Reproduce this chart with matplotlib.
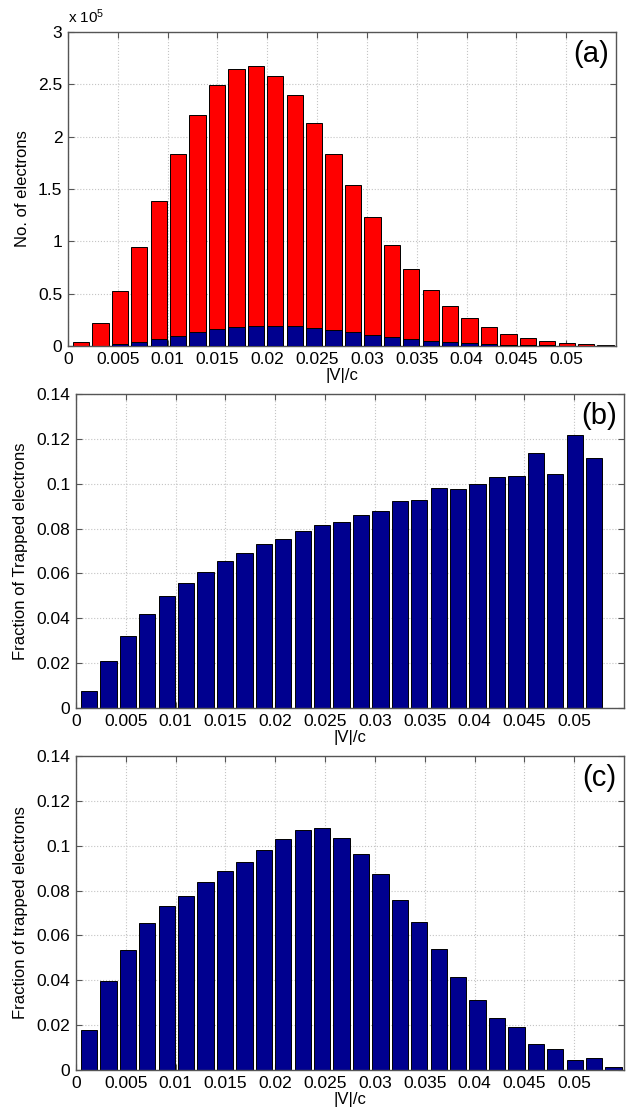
import matplotlib
matplotlib.use("Agg")
import matplotlib.pyplot as plt

plt.rcParams['font.family'] = ['Liberation Sans', 'DejaVu Sans']
plt.rcParams['mathtext.default'] = 'regular'

# bin centres of |V|/c
v_centres = [0.00130, 0.00325, 0.00520, 0.00715, 0.00910, 0.01105, 0.01300,
             0.01495, 0.01690, 0.01885, 0.02080, 0.02275, 0.02470, 0.02665,
             0.02860, 0.03055, 0.03250, 0.03445, 0.03640, 0.03835, 0.04030,
             0.04225, 0.04420, 0.04615, 0.04810, 0.05005, 0.05200, 0.05395]
bin_w = 0.00195

# (a) number of electrons, units of 1e5
all_electrons = [0.038, 0.215, 0.53, 0.945, 1.39, 1.831, 2.208, 2.495, 2.649,
                 2.677, 2.575, 2.396, 2.134, 1.837, 1.537, 1.237, 0.965, 0.731,
                 0.535, 0.385, 0.269, 0.18, 0.115, 0.077, 0.048, 0.032, 0.016,
                 0.01]
trapped_electrons = [0.0003, 0.004, 0.016, 0.038, 0.067, 0.10, 0.13, 0.16,
                     0.18, 0.195, 0.195, 0.19, 0.176, 0.154, 0.13, 0.105,
                     0.087, 0.067, 0.05, 0.038, 0.03, 0.02, 0.012, 0.008,
                     0.005, 0.004, 0.002, 0.001]

# (b) fraction of trapped electrons (27 bins)
frac_b = [0.0075, 0.021, 0.032, 0.042, 0.050, 0.0556, 0.0607, 0.0654, 0.0692,
          0.0729, 0.0755, 0.0788, 0.0817, 0.083, 0.0862, 0.088, 0.0922,
          0.0926, 0.0982, 0.0976, 0.0997, 0.103, 0.1036, 0.1137, 0.1043,
          0.1215, 0.1116]

# (c) fraction of trapped electrons
frac_c = [0.018, 0.0395, 0.0535, 0.0655, 0.0729, 0.0777, 0.0836, 0.0889,
          0.0928, 0.0982, 0.103, 0.1069, 0.1077, 0.1034, 0.0965, 0.0876,
          0.076, 0.0662, 0.054, 0.0416, 0.0311, 0.0233, 0.019, 0.0117,
          0.0092, 0.0044, 0.0052, 0.0015]

x_ticks = [0, 0.005, 0.01, 0.015, 0.02, 0.025, 0.03, 0.035, 0.04, 0.045, 0.05]
x_labels = ['0', '0.005', '0.01', '0.015', '0.02', '0.025', '0.03', '0.035',
            '0.04', '0.045', '0.05']
y_ticks_a = [0, 0.5, 1, 1.5, 2, 2.5, 3]
y_labels_a = ['0', '0.5', '1', '1.5', '2', '2.5', '3']
y_ticks_f = [0, 0.02, 0.04, 0.06, 0.08, 0.1, 0.12, 0.14]
y_labels_f = ['0', '0.02', '0.04', '0.06', '0.08', '0.1', '0.12', '0.14']

RED = '#ff0000'
NAVY = '#00008f'
W, H = 632, 1116


def style_axes(ax, yticks, ylabels, ylabel, tag):
    ax.set_xlim(0, 0.055)
    ax.set_ylim(yticks[0], yticks[-1])
    ax.set_xticks(x_ticks)
    ax.set_xticklabels(x_labels)
    ax.set_yticks(yticks)
    ax.set_yticklabels(ylabels)
    ax.tick_params(direction='in', top=True, right=True, length=4,
                   width=0.8, color='#555555', labelsize=12.5, pad=4)
    ax.grid(True, linestyle=':', color='#c4c4c4', linewidth=0.8)
    ax.set_axisbelow(True)
    for s in ax.spines.values():
        s.set_color('#555555')
        s.set_linewidth(1.0)
    ax.set_xlabel('|V|/c', fontsize=12, labelpad=1)
    ax.set_ylabel(ylabel, fontsize=12, labelpad=6)
    ax.text(0.955, 0.93, tag, transform=ax.transAxes, fontsize=21,
            ha='center', va='center')


fig = plt.figure(figsize=(W / 100, H / 100), dpi=100)

ax_a = fig.add_axes([68 / W, 1 - 346 / H, 548 / W, 314 / H])
ax_a.bar(v_centres, all_electrons, width=bin_w * 0.84, color=RED,
         edgecolor='black', linewidth=0.7, zorder=2)
ax_a.bar(v_centres, trapped_electrons, width=bin_w * 0.84, color=NAVY,
         edgecolor='black', linewidth=0.7, zorder=3)
style_axes(ax_a, y_ticks_a, y_labels_a, 'No. of electrons', '(a)')
ax_a.text(0.0, 1.02, r'x 10$^{5}$', transform=ax_a.transAxes, fontsize=11,
          ha='left', va='bottom')

ax_b = fig.add_axes([76 / W, 1 - 708 / H, 548 / W, 314 / H])
ax_b.bar(v_centres[:len(frac_b)], frac_b, width=bin_w * 0.84, color=NAVY,
         edgecolor='black', linewidth=0.7, zorder=2)
style_axes(ax_b, y_ticks_f, y_labels_f, 'Fraction of Trapped electrons', '(b)')

ax_c = fig.add_axes([76 / W, 1 - 1070 / H, 548 / W, 314 / H])
ax_c.bar(v_centres, frac_c, width=bin_w * 0.84, color=NAVY,
         edgecolor='black', linewidth=0.7, zorder=2)
style_axes(ax_c, y_ticks_f, y_labels_f, 'Fraction of trapped electrons', '(c)')

fig.savefig('out.png', dpi=100)
